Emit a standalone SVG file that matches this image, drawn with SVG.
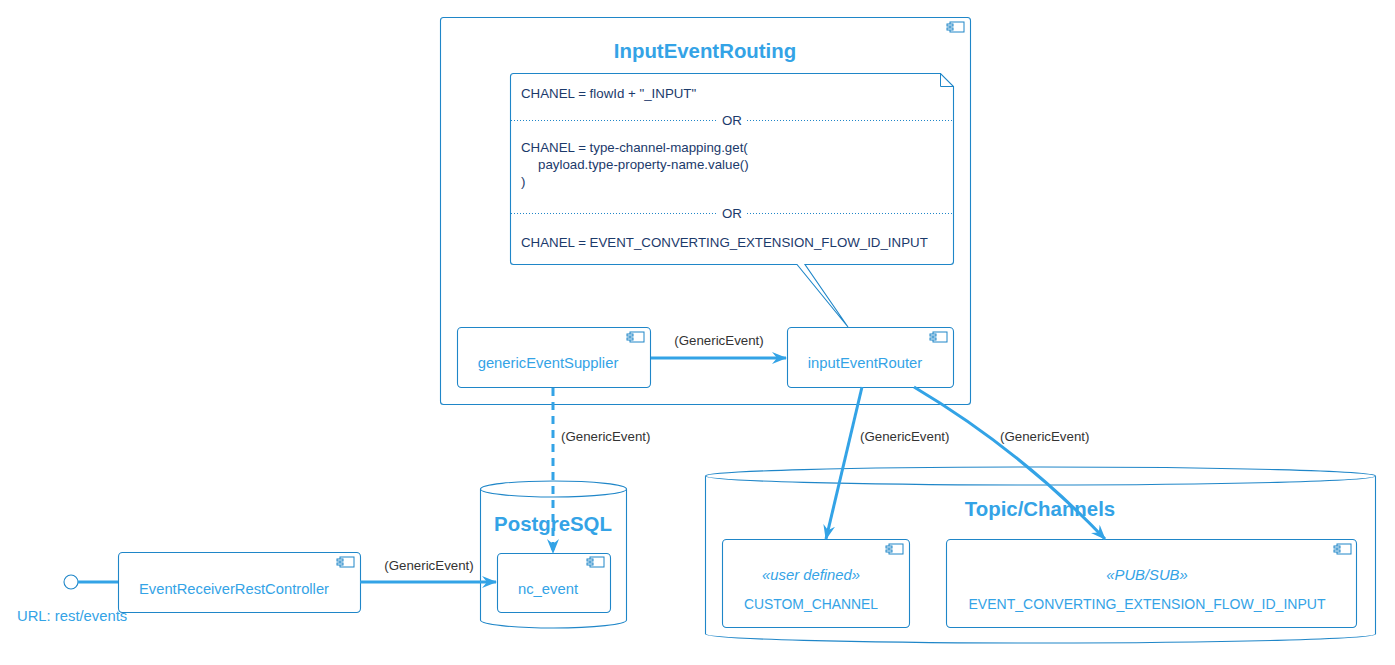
<svg xmlns="http://www.w3.org/2000/svg" width="1395" height="665" viewBox="0 0 1395 665">
<style>
.box{fill:#fff;stroke:#1f86c8;stroke-width:1.1}
.ttl{font-family:"Liberation Sans",Arial,sans-serif;font-weight:bold;font-size:20.4px;fill:#34a3e6;text-anchor:middle}
.ct{font-family:"Liberation Sans",Arial,sans-serif;font-size:14.8px;fill:#34a3e6;text-anchor:middle}
.ctl{font-family:"Liberation Sans",Arial,sans-serif;font-size:14.8px;fill:#34a3e6}
.st{font-family:"Liberation Sans",Arial,sans-serif;font-size:14.8px;font-style:italic;fill:#34a3e6;text-anchor:middle}
.nt{font-family:"Liberation Sans",Arial,sans-serif;font-size:13.3px;fill:#1b3a6b}
.lbl{font-family:"Liberation Sans",Arial,sans-serif;font-size:13.3px;fill:#333}
.conn{fill:none;stroke:#33a3e6;stroke-width:3}
.ico{fill:#fff;stroke:#1f86c8;stroke-width:1}
.sep{stroke:#1f86c8;stroke-width:1;stroke-dasharray:1 2}
</style>
<defs>
<marker id="ah" viewBox="0 0 15 12" refX="14" refY="6" markerWidth="15" markerHeight="12" markerUnits="userSpaceOnUse" orient="auto">
<path d="M0,0 L15,6 L0,12 L5,6 Z" fill="#33a3e6"/>
</marker>
<g id="cicon">
<rect x="3" y="0" width="14" height="10" class="ico"/>
<rect x="0" y="2" width="6" height="2" class="ico"/>
<rect x="0" y="6" width="6" height="2" class="ico"/>
</g>
</defs>

<g id="InputEventRouting">
<rect x="440.5" y="17.5" width="530" height="387" rx="3" class="box" stroke="#33a3e6"/>
<use href="#cicon" x="947" y="22"/>
<text x="705" y="58" class="ttl">InputEventRouting</text>
</g>

<g id="note">
<path d="M513.5,73.5 L940.5,73.5 L953.5,86.5 L953.5,261.5 Q953.5,264.5 950.5,264.5 L805,264.5 L848,327 L797,264.5 L513.5,264.5 Q510.5,264.5 510.5,261.5 L510.5,76.5 Q510.5,73.5 513.5,73.5 Z" class="box"/>
<path d="M940.5,73.5 L940.5,86.5 L953.5,86.5" fill="none" stroke="#1f86c8"/>
<text x="521" y="98" class="nt">CHANEL = flowId + "_INPUT"</text>
<line x1="511" y1="120.5" x2="716" y2="120.5" class="sep"/>
<text x="732" y="125" class="nt" text-anchor="middle">OR</text>
<line x1="747" y1="120.5" x2="953" y2="120.5" class="sep"/>
<text x="521" y="152" class="nt">CHANEL = type-channel-mapping.get(</text>
<text x="538" y="169" class="nt">payload.type-property-name.value()</text>
<text x="521" y="186" class="nt">)</text>
<line x1="511" y1="213.5" x2="716" y2="213.5" class="sep"/>
<text x="732" y="218" class="nt" text-anchor="middle">OR</text>
<line x1="747" y1="213.5" x2="953" y2="213.5" class="sep"/>
<text x="521" y="247" class="nt">CHANEL = EVENT_CONVERTING_EXTENSION_FLOW_ID_INPUT</text>
</g>

<g id="genericEventSupplier">
<rect x="457.5" y="327.5" width="193" height="60" rx="4" class="box"/>
<use href="#cicon" x="627" y="332"/>
<text x="548" y="368" class="ct">genericEventSupplier</text>
</g>

<g id="inputEventRouter">
<rect x="787.5" y="327.5" width="166" height="60" rx="4" class="box"/>
<use href="#cicon" x="930" y="332"/>
<text x="865" y="368" class="ct">inputEventRouter</text>
</g>

<g id="PostgreSQL">
<path d="M480.5,489 L480.5,620 A73,8 0 0 0 626.5,620 L626.5,489" class="box"/>
<ellipse cx="553.5" cy="489" rx="73" ry="8" class="box"/>
<text x="553" y="531" class="ttl">PostgreSQL</text>
</g>

<g id="nc_event">
<rect x="497.5" y="553.5" width="113" height="59" rx="4" class="box"/>
<use href="#cicon" x="587" y="557"/>
<text x="548" y="594" class="ct">nc_event</text>
</g>

<g id="EventReceiverRestController">
<rect x="118.5" y="552.5" width="242" height="60" rx="4" class="box"/>
<use href="#cicon" x="337" y="557"/>
<text x="234" y="594" class="ct" textLength="190" lengthAdjust="spacingAndGlyphs">EventReceiverRestController</text>
</g>

<g id="restInterface">
<circle cx="71" cy="582" r="7" class="box"/>
<text x="17" y="621" class="ctl">URL: rest/events</text>
</g>

<g id="TopicChannels">
<path d="M705.5,476 L705.5,634 A335,9 0 0 0 1375.5,634 L1375.5,476" class="box"/>
<ellipse cx="1040.5" cy="476" rx="335" ry="9" class="box"/>
<text x="1040" y="516" class="ttl">Topic/Channels</text>
</g>

<g id="CUSTOM_CHANNEL">
<rect x="722.5" y="539.5" width="187" height="88" rx="4" class="box"/>
<use href="#cicon" x="886" y="544"/>
<text x="811" y="580" class="st">«user defined»</text>
<text x="811" y="609" class="ct" textLength="134" lengthAdjust="spacingAndGlyphs">CUSTOM_CHANNEL</text>
</g>

<g id="EVENT_CONVERTING_EXTENSION_FLOW_ID_INPUT">
<rect x="946.5" y="539.5" width="410" height="88" rx="4" class="box"/>
<use href="#cicon" x="1334" y="544"/>
<text x="1147" y="580" class="st">«PUB/SUB»</text>
<text x="1147" y="609" class="ct" textLength="357" lengthAdjust="spacingAndGlyphs">EVENT_CONVERTING_EXTENSION_FLOW_ID_INPUT</text>
</g>

<g id="connectors">
<line x1="78" y1="582" x2="118" y2="582" class="conn"/>
<line x1="651" y1="358" x2="786" y2="358" class="conn" marker-end="url(#ah)"/>
<text x="719" y="345" class="lbl" text-anchor="middle">(GenericEvent)</text>
<line x1="553" y1="388" x2="553" y2="553" class="conn" stroke-dasharray="8 6" marker-end="url(#ah)"/>
<text x="561" y="441" class="lbl">(GenericEvent)</text>
<line x1="360" y1="582" x2="496" y2="582" class="conn" marker-end="url(#ah)"/>
<text x="429" y="570" class="lbl" text-anchor="middle">(GenericEvent)</text>
<line x1="862" y1="387" x2="826" y2="539" class="conn" marker-end="url(#ah)"/>
<text x="860" y="441" class="lbl">(GenericEvent)</text>
<path d="M914,387 Q1020,450 1105,539" class="conn" marker-end="url(#ah)"/>
<text x="1000" y="441" class="lbl">(GenericEvent)</text>
</g>
</svg>
